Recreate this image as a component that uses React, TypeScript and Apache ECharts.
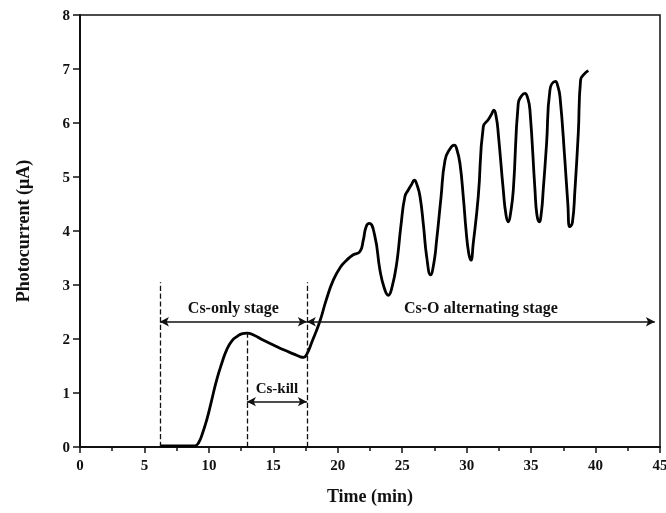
import React, { useEffect, useRef } from "react";
import * as echarts from "echarts";

const timeMin = [6.2, 7, 8, 8.9, 9.2, 9.5, 9.83, 10.2, 10.6, 11.0, 11.38, 11.8, 12.2, 12.6, 12.95, 13.5, 14.2, 15.0, 15.8, 16.6, 17.1, 17.35, 17.6, 18.0, 18.6, 19.1, 19.65, 20.2, 20.69, 21.2, 21.72, 21.98, 22.2, 22.45, 22.88, 23.27, 23.6, 23.92, 24.2, 24.57, 24.9, 25.21, 25.47, 25.7, 25.94, 26.15, 26.38, 26.65, 26.9, 27.2, 27.45, 27.67, 28.0, 28.32, 28.7, 29.04, 29.25, 29.48, 29.75, 29.95, 30.15, 30.33, 30.51, 30.9, 31.29, 31.67, 31.9, 32.11, 32.3, 32.45, 32.84, 33.05, 33.23, 33.42, 33.62, 34.0, 34.25, 34.52, 34.75, 34.91, 35.3, 35.45, 35.63, 35.8, 35.94, 36.2, 36.46, 36.9, 37.05, 37.24, 37.62, 37.85, 38.0, 38.2, 38.4, 38.66, 38.84, 39.1, 39.44];
const photocurrent = [0.02, 0.02, 0.02, 0.02, 0.08, 0.25, 0.5, 0.85, 1.24, 1.55, 1.8, 1.97, 2.05, 2.1, 2.11, 2.07, 1.98, 1.89, 1.8, 1.72, 1.67, 1.66, 1.72, 1.95, 2.32, 2.72, 3.09, 3.33, 3.46, 3.56, 3.62, 3.83, 4.08, 4.14, 3.9, 3.28, 2.95, 2.81, 2.95, 3.4, 4.1, 4.64, 4.76, 4.85, 4.94, 4.85, 4.64, 4.1, 3.52, 3.19, 3.4, 3.83, 4.6, 5.31, 5.52, 5.59, 5.5, 5.25, 4.6, 4.02, 3.6, 3.46, 3.77, 4.64, 5.93, 6.06, 6.15, 6.24, 6.1, 5.81, 4.76, 4.3, 4.17, 4.35, 4.76, 6.36, 6.5, 6.55, 6.45, 6.24, 4.76, 4.3, 4.17, 4.35, 4.76, 5.62, 6.61, 6.77, 6.7, 6.49, 5.31, 4.5, 4.08, 4.15, 4.76, 5.81, 6.8, 6.9, 6.97];

// annotation definitions (times in min, currents in µA)
const stageBoundaries = [6.2, 17.6];
const boundaryTop = 3.05;
const csKillStart = 12.95;
const csKillTop = 2.11;
const stageArrowY = 2.32;
const csOEnd = 44.6;
const csKillArrowY = 0.84;
const stageLabels = ["Cs-only stage", "Cs-O alternating stage", "Cs-kill"];

const FONT = "'Liberation Serif', 'Times New Roman', serif";

export default function App() {
  const ref = useRef<HTMLDivElement>(null);
  useEffect(() => {
    if (!ref.current) return;
    const chart = echarts.init(ref.current, undefined, { renderer: "svg" });
    const data = timeMin.map((t, i) => [t, photocurrent[i]]);
    const labelStyle = {
      show: true,
      position: "middle" as const,
      fontFamily: FONT,
      fontWeight: "bold" as const,
      fontSize: 16,
      color: "#111",
      distance: 6,
    };
    chart.setOption({
      animation: false,
      grid: {
        left: 80,
        right: 6,
        top: 15,
        bottom: 66,
        outerBoundsMode: "none",
        containLabel: false,
        show: true,
        borderColor: "#111",
        borderWidth: 1.5,
      },
      xAxis: {
        type: "value",
        min: 0,
        max: 45,
        interval: 5,
        name: "Time (min)",
        nameLocation: "middle",
        nameGap: 40,
        nameTextStyle: { fontFamily: FONT, fontWeight: "bold", fontSize: 18, color: "#111" },
        axisLine: { show: true, lineStyle: { color: "#111", width: 2 } },
        axisTick: { show: true, length: 6, lineStyle: { color: "#111", width: 1.5 } },
        minorTick: { show: true, splitNumber: 2, length: 4, lineStyle: { color: "#111", width: 1.5 } },
        axisLabel: { fontFamily: FONT, fontWeight: "bold", fontSize: 15, color: "#111", margin: 10 },
        splitLine: { show: false },
      },
      yAxis: {
        type: "value",
        min: 0,
        max: 8,
        interval: 1,
        name: "Photocurrent (\u03bcA)",
        nameLocation: "middle",
        nameGap: 48,
        nameTextStyle: { fontFamily: FONT, fontWeight: "bold", fontSize: 18, color: "#111" },
        axisLine: { show: true, lineStyle: { color: "#111", width: 2 } },
        axisTick: { show: true, length: 7, lineStyle: { color: "#111", width: 1.5 } },
        axisLabel: { fontFamily: FONT, fontWeight: "bold", fontSize: 15, color: "#111", margin: 10 },
        splitLine: { show: false },
      },
      series: [
        {
          type: "line",
          data,
          smooth: 0.5,
          showSymbol: false,
          symbol: "none",
          lineStyle: { color: "#000", width: 2.8 },
          silent: true,
          markLine: {
            silent: true,
            symbol: ["none", "none"],
            lineStyle: { color: "#111", type: "dashed", width: 1.3 },
            label: { show: false },
            data: [
              [
                { coord: [stageBoundaries[0], 0] },
                { coord: [stageBoundaries[0], boundaryTop] },
              ],
              [
                { coord: [stageBoundaries[1], 0] },
                { coord: [stageBoundaries[1], boundaryTop] },
              ],
              [
                { coord: [csKillStart, 0] },
                { coord: [csKillStart, csKillTop] },
              ],
            ],
          },
        },
        {
          type: "line",
          data: [],
          markLine: {
            silent: true,
            symbol: ["arrow", "arrow"],
            symbolSize: [7, 9],
            lineStyle: { color: "#111", type: "solid", width: 1.6 },
            data: [
              [
                { coord: [stageBoundaries[0], stageArrowY], label: { ...labelStyle, formatter: stageLabels[0] } },
                { coord: [stageBoundaries[1], stageArrowY] },
              ],
              [
                { coord: [stageBoundaries[1], stageArrowY], label: { ...labelStyle, formatter: stageLabels[1] } },
                { coord: [csOEnd, stageArrowY] },
              ],
              [
                { coord: [csKillStart, csKillArrowY], label: { ...labelStyle, fontSize: 15, formatter: stageLabels[2] } },
                { coord: [stageBoundaries[1], csKillArrowY] },
              ],
            ],
          },
        },
      ],
    });
    return () => chart.dispose();
  }, []);
  return <div ref={ref} style={{ position: "fixed", left: 0, top: 0, width: 666, height: 513 }} />;
}
